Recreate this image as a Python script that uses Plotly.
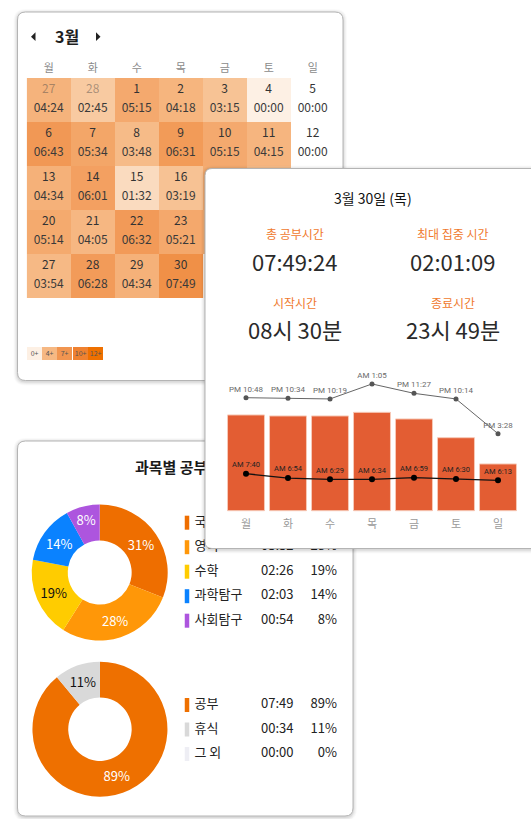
import plotly.graph_objects as go

W, H = 531, 819
FONT = "Noto Sans CJK KR"

# ---------------- data ----------------
weekdays = ["월", "화", "수", "목", "금", "토", "일"]
cal_month = "3월"
cal_days = [
    [27, 28, 1, 2, 3, 4, 5],
    [6, 7, 8, 9, 10, 11, 12],
    [13, 14, 15, 16, 17, 18, 19],
    [20, 21, 22, 23, 24, 25, 26],
    [27, 28, 29, 30, 31, 1, 2],
]
cal_times = [
    ["04:24", "02:45", "05:15", "04:18", "03:15", "00:00", "00:00"],
    ["06:43", "05:34", "03:48", "06:31", "05:15", "04:15", "00:00"],
    ["04:34", "06:01", "01:32", "03:19", "05:02", "03:40", "00:00"],
    ["05:14", "04:05", "06:32", "05:21", "04:48", "03:12", "00:00"],
    ["03:54", "06:28", "04:34", "07:49", "00:00", "00:00", "00:00"],
]
cal_other_month = [
    [True, True, False, False, False, False, False],
    [False] * 7,
    [False] * 7,
    [False] * 7,
    [False, False, False, False, False, True, True],
]
legend_levels = [0, 4, 7, 10, 12]          # hours
level_colors = ["#fdf0e4", "#f6b883", "#f19550", "#ef8130", "#ee7000"]

detail_title = "3월 30일 (목)"
stat_labels = ["총 공부시간", "최대 집중 시간", "시작시간", "종료시간"]
stat_values = ["07:49:24", "02:01:09", "08시 30분", "23시 49분"]

week_study = [7.66, 7.58, 7.58, 7.87, 7.34, 5.84, 3.74]
week_end_level = [9.04, 8.99, 8.94, 10.14, 9.39, 8.94, 6.16]
week_end_labels = ["PM 10:48", "PM 10:34", "PM 10:19", "AM 1:05", "PM 11:27", "PM 10:14", "PM 3:28"]
week_start_level = [2.96, 2.61, 2.51, 2.51, 2.64, 2.54, 2.43]
week_start_labels = ["AM 7:40", "AM 6:54", "AM 6:29", "AM 6:34", "AM 6:59", "AM 6:30", "AM 6:13"]

subject_title = "과목별 공부시간"
subject_names = ["국어", "영어", "수학", "과학탐구", "사회탐구"]
subject_times = ["04:11", "03:32", "02:26", "02:03", "00:54"]
subject_pcts = [31, 28, 19, 14, 8]
subject_colors = ["#ee6e00", "#ff9708", "#ffcc00", "#0a82ff", "#ad55de"]
subject_text_colors = ["white", "white", "#111", "white", "white"]

activity_names = ["공부", "휴식", "그 외"]
activity_times = ["07:49", "00:34", "00:00"]
activity_pcts = [89, 11, 0]
activity_colors = ["#ee7000", "#d9d9d9", "#eeeef4"]
activity_text_colors = ["white", "#111", "#111"]


# ---------------- helpers ----------------
def minutes(t):
    h, m = t.split(":")
    return int(h) * 60 + int(m)


def px(x):
    return x / W


def py(y):
    return 1 - y / H


def rounded_path(x0, y0, x1, y1, r, fx, fy):
    return (
        f"M{fx(x0 + r)},{fy(y0)} L{fx(x1 - r)},{fy(y0)} "
        f"Q{fx(x1)},{fy(y0)} {fx(x1)},{fy(y0 + r)} "
        f"L{fx(x1)},{fy(y1 - r)} Q{fx(x1)},{fy(y1)} {fx(x1 - r)},{fy(y1)} "
        f"L{fx(x0 + r)},{fy(y1)} Q{fx(x0)},{fy(y1)} {fx(x0)},{fy(y1 - r)} "
        f"L{fx(x0)},{fy(y0 + r)} Q{fx(x0)},{fy(y0)} {fx(x0 + r)},{fy(y0)} Z"
    )


shapes = []


def card(x0, y0, x1, y1, r, fx, fy, xref, yref, layer="below"):
    for grow, a in [(4, 0.02), (3, 0.03), (2, 0.04), (1, 0.06)]:
        shapes.append(dict(type="path", xref=xref, yref=yref, layer=layer,
                           path=rounded_path(x0 - grow, y0 - grow + 1, x1 + grow, y1 + grow + 1,
                                             r + grow, fx, fy),
                           fillcolor=f"rgba(0,0,0,{a})", line=dict(width=0)))
    shapes.append(dict(type="path", xref=xref, yref=yref, layer=layer,
                       path=rounded_path(x0, y0, x1, y1, r, fx, fy),
                       fillcolor="white", line=dict(color="#b4b4b4", width=1)))


# popup subplot geometry (pixels)
P_X0, P_PITCH = 246.0, 42.0
P_BASE, P_UNIT = 510.7, 12.5
P_DOM = (195, 531, 160, 560)


def fx3(x):
    return (x - P_X0) / P_PITCH


def fy3(y):
    return (P_BASE - y) / P_UNIT


# cards
card(17.5, 12, 343, 380.5, 8, px, py, "paper", "paper")
card(17.5, 441, 353, 816, 8, px, py, "paper", "paper")
card(205, 168.5, 560, 548.5, 7, fx3, fy3, "x3", "y3")

# month arrows
shapes.append(dict(type="path", xref="paper", yref="paper",
                   path=f"M{px(31)},{py(36.7)} L{px(35.5)},{py(32.3)} L{px(35.5)},{py(41.1)} Z",
                   fillcolor="#222", line=dict(width=0)))
shapes.append(dict(type="path", xref="paper", yref="paper",
                   path=f"M{px(100.5)},{py(36.7)} L{px(96)},{py(32.3)} L{px(96)},{py(41.1)} Z",
                   fillcolor="#222", line=dict(width=0)))

fig = go.Figure()

# ---------------- calendar (subplot xy) ----------------
z = [[minutes(t) if c < 6 else None for c, t in enumerate(row)] for row in cal_times]
cs_pos = [lv / legend_levels[-1] for lv in legend_levels]
fig.add_trace(go.Heatmap(
    x=weekdays, y=list(range(len(cal_days))), z=z,
    colorscale=[[p, c] for p, c in zip(cs_pos, level_colors)],
    zmin=0, zmax=legend_levels[-1] * 60, showscale=False, hoverinfo="skip",
    xgap=0, ygap=0, xaxis="x", yaxis="y"))

cx, cy_num, cy_time, day_txt, time_txt, day_col = [], [], [], [], [], []
for r, row in enumerate(cal_days):
    for c, d in enumerate(row):
        cx.append(weekdays[c])
        cy_num.append(r - 0.22)
        cy_time.append(r + 0.215)
        day_txt.append(str(d))
        time_txt.append(cal_times[r][c])
        day_col.append("rgba(70,70,70,0.45)" if cal_other_month[r][c] else "#333333")
fig.add_trace(go.Scatter(x=cx, y=cy_num, text=day_txt, mode="text", cliponaxis=False,
                         textfont=dict(size=12, color=day_col, family=FONT),
                         hoverinfo="skip", xaxis="x", yaxis="y"))
fig.add_trace(go.Scatter(x=cx, y=cy_time, text=time_txt, mode="text", cliponaxis=False,
                         textfont=dict(size=12, color="#3a3a3a", family=FONT),
                         hoverinfo="skip", xaxis="x", yaxis="y"))

# ---------------- subject legends / title (subplot x2y2, pixel canvas) ----------------
LEG_MARK_X, LEG_NAME_X, LEG_TIME_X, LEG_PCT_X = 187, 194.5, 261, 337
LEG1_Y0, LEG2_Y0, LEG_PITCH = 522.7, 705, 24.5


def legend_block(names, times, pcts, colors, y0):
    ys = [y0 + i * LEG_PITCH for i in range(len(names))]
    fig.add_trace(go.Scatter(x=[LEG_MARK_X] * len(names), y=ys, mode="markers",
                             marker=dict(symbol="line-ns", size=10,
                                         line=dict(width=4.5, color=colors)),
                             hoverinfo="skip", cliponaxis=False, xaxis="x2", yaxis="y2"))
    fig.add_trace(go.Scatter(x=[LEG_NAME_X] * len(names), y=ys, mode="text", text=names,
                             textposition="middle right", cliponaxis=False,
                             textfont=dict(size=13, color="#222", family=FONT),
                             hoverinfo="skip", xaxis="x2", yaxis="y2"))
    fig.add_trace(go.Scatter(x=[LEG_TIME_X] * len(names), y=ys, mode="text", text=times,
                             textposition="middle right", cliponaxis=False,
                             textfont=dict(size=13, color="#222", family=FONT),
                             hoverinfo="skip", xaxis="x2", yaxis="y2"))
    fig.add_trace(go.Scatter(x=[LEG_PCT_X] * len(names), y=ys, mode="text",
                             text=[f"{p}%" for p in pcts],
                             textposition="middle left", cliponaxis=False,
                             textfont=dict(size=13, color="#222", family=FONT),
                             hoverinfo="skip", xaxis="x2", yaxis="y2"))


fig.add_trace(go.Scatter(x=[185], y=[469], mode="text", text=[f"<b>{subject_title}</b>"],
                         cliponaxis=False, textfont=dict(size=15, color="#1a1a1a", family=FONT),
                         hoverinfo="skip", xaxis="x2", yaxis="y2"))
legend_block(subject_names, subject_times, subject_pcts, subject_colors, LEG1_Y0)
legend_block(activity_names, activity_times, activity_pcts, activity_colors, LEG2_Y0)

# ---------------- popup weekly chart (subplot x3y3) ----------------
fig.add_trace(go.Bar(x=weekdays, y=week_study, width=0.88,
                     marker=dict(color="#e35d33", line=dict(color="#f7c9b7", width=1)),
                     hoverinfo="skip", xaxis="x3", yaxis="y3"))
fig.add_trace(go.Scatter(x=weekdays, y=week_end_level, mode="lines+markers+text",
                         text=week_end_labels, textposition="top center", cliponaxis=False,
                         line=dict(color="#666", width=1), marker=dict(size=5, color="#555"),
                         textfont=dict(size=8, color="#6a6a6a", family="Roboto"),
                         hoverinfo="skip", xaxis="x3", yaxis="y3"))
fig.add_trace(go.Scatter(x=weekdays, y=week_start_level, mode="lines+markers+text",
                         text=week_start_labels, textposition="top center", cliponaxis=False,
                         line=dict(color="#111", width=1.3), marker=dict(size=6, color="#000"),
                         textfont=dict(size=7.5, color="#222", family="Roboto"),
                         hoverinfo="skip", xaxis="x3", yaxis="y3"))

# ---------------- donuts ----------------
fig.add_trace(go.Pie(values=subject_pcts, labels=subject_names, hole=0.47, sort=False,
                     direction="clockwise", rotation=0,
                     marker=dict(colors=subject_colors, line=dict(width=0)),
                     texttemplate="%{value}%", textposition="inside",
                     insidetextorientation="horizontal",
                     textfont=dict(size=13, color=subject_text_colors, family=FONT),
                     domain=dict(x=[px(31.7), px(167.7)], y=[py(640.5), py(504.5)]),
                     hoverinfo="skip", showlegend=False))
fig.add_trace(go.Pie(values=activity_pcts, labels=activity_names, hole=0.47, sort=False,
                     direction="clockwise", rotation=0,
                     marker=dict(colors=activity_colors, line=dict(width=0)),
                     texttemplate=["%{value}%", "%{value}%", ""], textposition="inside",
                     insidetextorientation="horizontal",
                     textfont=dict(size=13, color=activity_text_colors, family=FONT),
                     domain=dict(x=[px(32.2), px(167.7)], y=[py(796.7), py(661.7)]),
                     hoverinfo="skip", showlegend=False))

# ---------------- annotations ----------------
ann = []


def text(x, y, t, size, color, **kw):
    ann.append(dict(x=px(x), y=py(y), xref="paper", yref="paper", text=t, showarrow=False,
                    xanchor="center", yanchor="middle",
                    font=dict(size=size, color=color, family=kw.pop("family", FONT)), **kw))


text(67, 36.5, f"<b>{cal_month}</b>", 16, "#1e1e1e")

# calendar colour legend
box_x0, box_w = 26.7, 15.3
for i, lv in enumerate(legend_levels):
    ann.append(dict(x=px(box_x0 + box_w * (i + 0.5)), y=py(353.3), xref="paper", yref="paper",
                    text=f"{lv}+", showarrow=False, xanchor="center", yanchor="middle",
                    width=box_w, height=12.5, borderpad=0, borderwidth=0,
                    bgcolor=level_colors[i], font=dict(size=7, color="#555", family=FONT)))

# popup texts
text(373, 198, detail_title, 14, "#111")
col_x = [295, 453, 295, 453]
lab_y = [233, 233, 302, 302]
val_y = [261, 261, 329, 329]
for i in range(4):
    text(col_x[i], lab_y[i], stat_labels[i], 12, "#f07a2e")
    text(col_x[i], val_y[i], stat_values[i], 22, "#2a2a2a")

fig.update_layout(
    width=W, height=H, autosize=False,
    margin=dict(l=0, r=0, t=0, b=0, pad=0),
    paper_bgcolor="white", plot_bgcolor="rgba(0,0,0,0)",
    font=dict(family=FONT),
    showlegend=False, hovermode=False,
    bargap=0,
    shapes=shapes, annotations=ann,
    xaxis=dict(domain=[px(26.7), px(334.7)], anchor="y", side="top", showgrid=False,
               zeroline=False, showline=False, ticks="", fixedrange=True,
               tickfont=dict(size=11, color="#8a8a8a", family=FONT), ticklabelstandoff=3),
    yaxis=dict(domain=[py(298), py(78)], anchor="x", range=[4.5, -0.5], visible=False,
               fixedrange=True),
    xaxis2=dict(domain=[0, 1], range=[0, W], anchor="y2", visible=False, fixedrange=True),
    yaxis2=dict(domain=[0, 1], range=[H, 0], anchor="x2", visible=False, fixedrange=True),
    xaxis3=dict(domain=[px(P_DOM[0]), px(P_DOM[1])],
                range=[fx3(P_DOM[0]), fx3(P_DOM[1])],
                anchor="free", position=py(516), showgrid=False, zeroline=False,
                showline=False, ticks="", fixedrange=True,
                tickfont=dict(size=11, color="#9a9a9a", family=FONT)),
    yaxis3=dict(domain=[py(P_DOM[3]), py(P_DOM[2])],
                range=[fy3(P_DOM[3]), fy3(P_DOM[2])],
                anchor="x3", visible=False, fixedrange=True),
)

fig.write_html(
    "out.html",
    config={"displayModeBar": False, "staticPlot": True},
    post_script="document.body.style.margin='0';document.body.style.overflow='hidden';",
)
